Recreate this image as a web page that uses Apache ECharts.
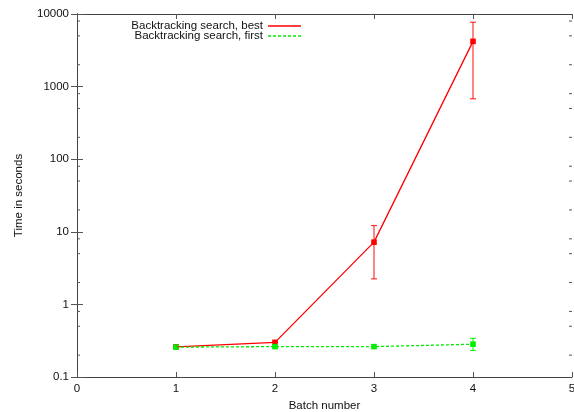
<!DOCTYPE html>
<html>
<head>
<meta charset="utf-8">
<script src="https://cdn.jsdelivr.net/npm/echarts@6/dist/echarts.min.js"></script>
<style>
  html, body { margin: 0; padding: 0; background: #fff; }
  #chart { width: 574px; height: 412px; }
</style>
</head>
<body>
<div id="chart"></div>
<script>
// data
const batches = [1, 2, 3, 4];
const bestMean = [0.26, 0.30, 7.2, 4200];
const bestLow = [0.26, 0.30, 2.25, 680];
const bestHigh = [0.26, 0.30, 12.2, 7700];
const firstMean = [0.258, 0.262, 0.262, 0.283];
const firstLow = [0.258, 0.262, 0.262, 0.232];
const firstHigh = [0.258, 0.262, 0.262, 0.34];
const xTicks = [0, 1, 2, 3, 4, 5];
const yTicks = [0.1, 1, 10, 100, 1000, 10000];
const minorTicks = [0.2, 0.5, 0.8, 2, 5, 8, 20, 50, 80, 200, 500, 800, 2000, 5000, 8000];

const font = 'Liberation Sans, Arial, sans-serif';
const axisColor = '#444';

// legend samples: a solid bar and a dashed one
const solidIcon = 'path://M0,0H33V1.4H0Z';
const dashedIcon = 'path://M0,0H3V1.4H0Z M5,0H8V1.4H5Z M10,0H13V1.4H10Z M15,0H18V1.4H15Z M20,0H23V1.4H20Z M25,0H28V1.4H25Z M30,0H33V1.4H30Z';

function errorBars(color) {
  return function (params, api) {
    const x = api.value(0);
    const p = api.coord([x, api.value(1)]);
    const lo = api.coord([x, api.value(2)]);
    const hi = api.coord([x, api.value(3)]);
    const cap = 3, s = 2.8;
    const st = { stroke: color, lineWidth: 1.2, opacity: 0.8 };
    return {
      type: 'group',
      children: [
        { type: 'line', shape: { x1: lo[0], y1: lo[1], x2: hi[0], y2: hi[1] }, style: st },
        { type: 'line', shape: { x1: lo[0] - cap, y1: lo[1], x2: lo[0] + cap, y2: lo[1] }, style: st },
        { type: 'line', shape: { x1: hi[0] - cap, y1: hi[1], x2: hi[0] + cap, y2: hi[1] }, style: st },
        { type: 'rect', shape: { x: p[0] - s, y: p[1] - s, width: 2 * s, height: 2 * s }, style: { fill: color } }
      ]
    };
  };
}

function minorTickItem(params, api) {
  const v = api.value(1);
  const l = api.coord([xTicks[0], v]);
  const r = api.coord([xTicks[xTicks.length - 1], v]);
  const st = { stroke: '#555', lineWidth: 1 };
  return {
    type: 'group',
    children: [
      { type: 'line', shape: { x1: l[0], y1: l[1], x2: l[0] + 3, y2: l[1] }, style: st },
      { type: 'line', shape: { x1: r[0], y1: r[1], x2: r[0] - 3, y2: r[1] }, style: st }
    ]
  };
}

const chart = echarts.init(document.getElementById('chart'));

const xBase = {
  type: 'value',
  min: xTicks[0],
  max: xTicks[xTicks.length - 1],
  interval: 1,
  splitLine: { show: false },
  axisLine: { lineStyle: { color: axisColor, width: 1 } },
  axisTick: { inside: true, length: 5, lineStyle: { color: '#555' } }
};
const yBase = {
  type: 'log',
  logBase: 10,
  min: yTicks[0],
  max: yTicks[yTicks.length - 1],
  splitLine: { show: false },
  axisLine: { show: true, lineStyle: { color: axisColor, width: 1 } },
  axisTick: { inside: true, length: 6, lineStyle: { color: '#555' } }
};

const legendText = { fontSize: 11.5, color: '#111', fontFamily: font };

const option = {
  animation: false,
  backgroundColor: '#fff',
  textStyle: { fontFamily: font },
  grid: { left: 77, right: 2, top: 14, bottom: 35, outerBoundsMode: 'none' },
  legend: [
    {
      data: [{ name: 'Backtracking search, best', icon: solidIcon }],
      right: 273, top: 20, align: 'right', padding: 0,
      itemWidth: 33, itemHeight: 8,
      textStyle: legendText
    },
    {
      data: [{ name: 'Backtracking search, first', icon: dashedIcon }],
      right: 273, top: 30, align: 'right', padding: 0,
      itemWidth: 33, itemHeight: 8,
      textStyle: legendText
    }
  ],
  xAxis: [
    Object.assign({}, xBase, {
      position: 'bottom',
      name: 'Batch number',
      nameLocation: 'middle',
      nameGap: 23,
      nameTextStyle: { fontSize: 11.5, color: '#111' },
      axisLabel: { margin: 6, fontSize: 11.5, color: '#111', formatter: v => String(v) }
    }),
    Object.assign({}, xBase, { position: 'top', axisLabel: { show: false } })
  ],
  yAxis: [
    Object.assign({}, yBase, {
      position: 'left',
      name: 'Time in seconds',
      nameLocation: 'middle',
      nameGap: 52,
      nameTextStyle: { fontSize: 11.5, color: '#111' },
      axisLabel: {
        margin: 8, fontSize: 11.5, color: '#111',
        formatter: v => String(Math.round(v * 10) / 10)
      }
    }),
    Object.assign({}, yBase, { position: 'right', axisLabel: { show: false } })
  ],
  series: [
    {
      name: 'minor ticks',
      type: 'custom',
      renderItem: minorTickItem,
      encode: { x: 0, y: 1 },
      data: minorTicks.map(v => [xTicks[0], v]),
      silent: true
    },
    {
      name: 'Backtracking search, best',
      type: 'line',
      symbol: 'none',
      color: '#ff0000',
      lineStyle: { color: '#ff0000', width: 1.3 },
      data: batches.map((x, i) => [x, bestMean[i]])
    },
    {
      name: 'best-err',
      type: 'custom',
      renderItem: errorBars('#ff0000'),
      encode: { x: 0, y: 1 },
      data: batches.map((x, i) => [x, bestMean[i], bestLow[i], bestHigh[i]])
    },
    {
      name: 'Backtracking search, first',
      type: 'line',
      symbol: 'none',
      color: '#00ee00',
      lineStyle: { color: '#00ee00', width: 1.3, type: [3, 2] },
      data: batches.map((x, i) => [x, firstMean[i]])
    },
    {
      name: 'first-err',
      type: 'custom',
      renderItem: errorBars('#00ee00'),
      encode: { x: 0, y: 1 },
      data: batches.map((x, i) => [x, firstMean[i], firstLow[i], firstHigh[i]])
    }
  ]
};

chart.setOption(option);
</script>
</body>
</html>
